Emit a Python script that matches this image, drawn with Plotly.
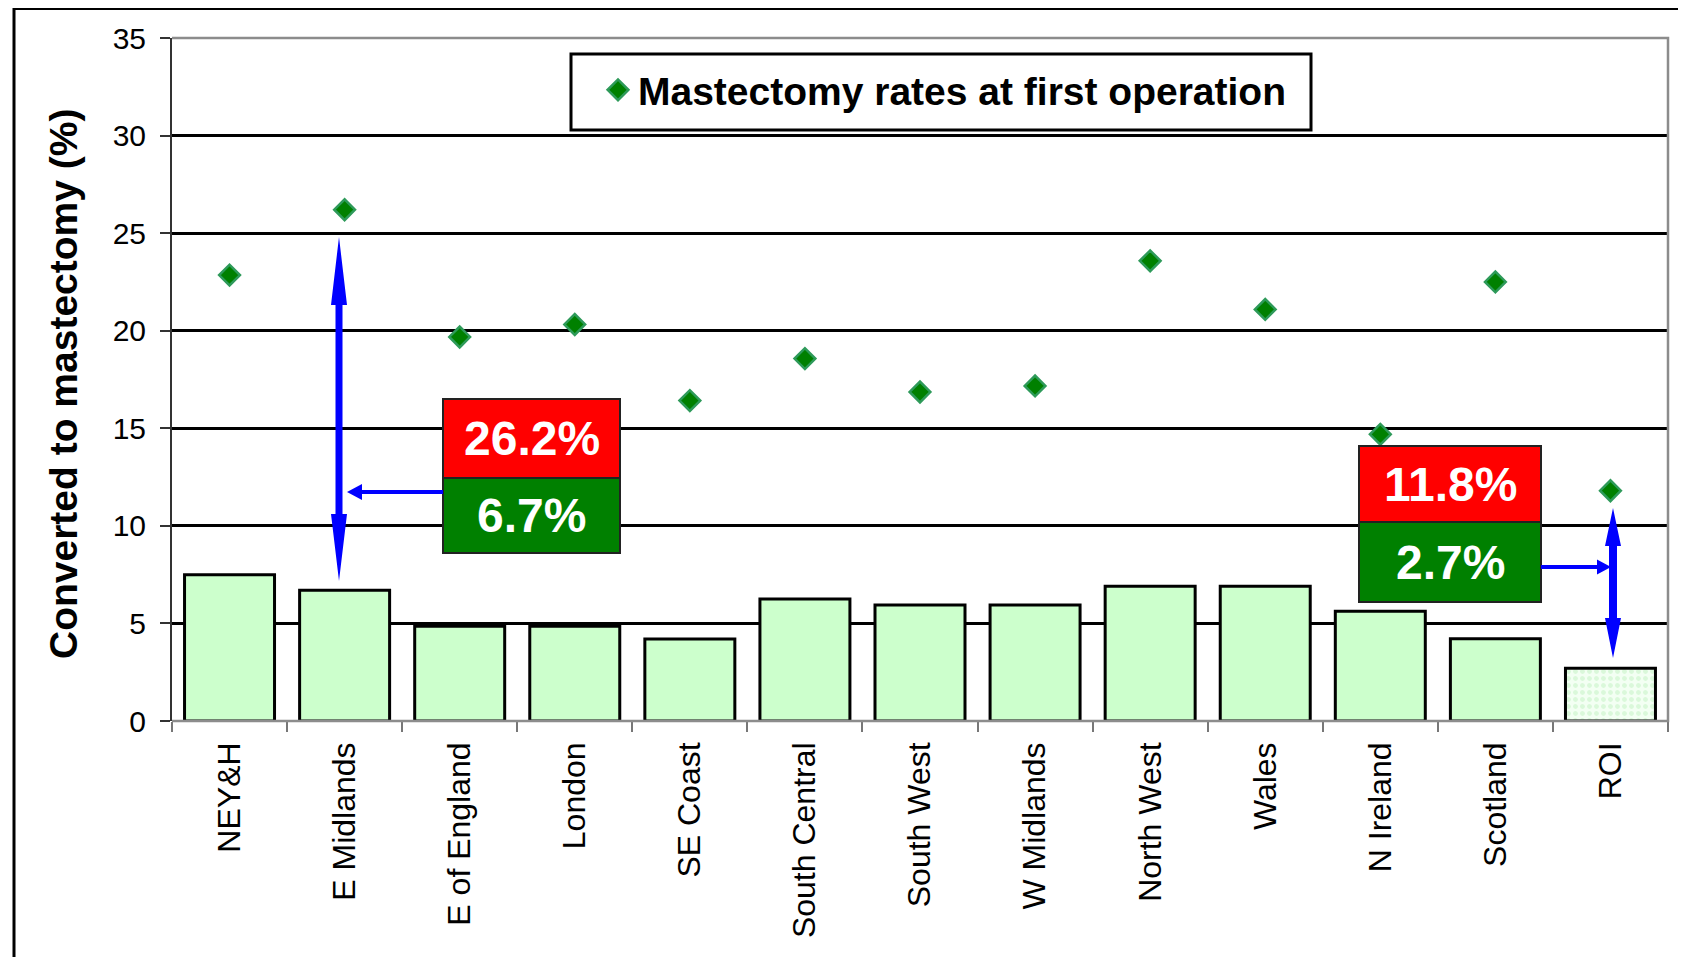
import plotly.graph_objects as go

# ---------------- data ----------------
categories = ["NEY&H", "E Midlands", "E of England", "London", "SE Coast",
              "South Central", "South West", "W Midlands", "North West",
              "Wales", "N Ireland", "Scotland", "ROI"]
converted_pct = [7.5, 6.7, 4.86, 4.86, 4.2, 6.25, 5.95, 5.95, 6.9, 6.9, 5.62, 4.21, 2.7]
mastectomy_pct = [22.85, 26.2, 19.68, 20.32, 16.42, 18.57, 16.86, 17.17, 23.58, 21.09, 14.69, 22.5, 11.8]
y_ticks = [0, 5, 10, 15, 20, 25, 30, 35]
legend_name = "Mastectomy rates at first operation"
y_title = "Converted to mastectomy (%)"

# ---------------- layout geometry (page pixels) ----------------
OFF = 8  # default body margin of the page
W, H = 1686 - OFF, 957 - OFF
PLOT_L, PLOT_R, PLOT_T, PLOT_B = 172, 1668, 38, 721  # page coords
ML, MT = PLOT_L - OFF, PLOT_T - OFF
MR = (W + OFF) - PLOT_R
MB = (H + OFF) - PLOT_B
PW = PLOT_R - PLOT_L
PH = PLOT_B - PLOT_T
N = len(categories)
CAT_W = PW / N
PX_PER_UNIT = PH / 35.0

FONT = "Liberation Sans, Arial, sans-serif"


def dx(px):
    return (px - PLOT_L) / CAT_W - 0.5


def dy(py):
    return (PLOT_B - py) / PX_PER_UNIT


def paper_x(px):
    return (px - PLOT_L) / PW


def paper_y(py):
    return (PLOT_B - py) / PH


def poly(points):
    return "M " + " L ".join(f"{dx(x):.4f},{dy(y):.4f}" for x, y in points) + " Z"


def vert_double_arrow(cx, yt, yb, w, hw, hlt, hlb):
    pts = [(cx, yt), (cx + hw, yt + hlt), (cx + w, yt + hlt), (cx + w, yb - hlb),
           (cx + hw, yb - hlb), (cx, yb), (cx - hw, yb - hlb), (cx - w, yb - hlb),
           (cx - w, yt + hlt), (cx - hw, yt + hlt)]
    return poly(pts)


def horiz_arrow(x_from, x_tip, y, w, hh, hl):
    s = 1 if x_tip > x_from else -1
    base = x_tip - s * hl
    pts = [(x_from, y - w), (base, y - w), (base, y - hh), (x_tip, y),
           (base, y + hh), (base, y + w), (x_from, y + w)]
    return poly(pts)


pattern_shapes = [""] * (N - 1) + ["."]

fig = go.Figure()
fig.add_trace(go.Bar(
    x=categories, y=converted_pct, showlegend=False,
    marker=dict(color="#CCFFCC", line=dict(color="black", width=3),
                pattern=dict(shape=pattern_shapes, bgcolor="#F3FFF3",
                             fgcolor="#C2F2C2", size=7, solidity=0.4)),
    hoverinfo="x+y",
))
fig.add_trace(go.Scatter(
    x=categories, y=mastectomy_pct, mode="markers", name=f"<b>{legend_name}</b>",
    marker=dict(symbol="diamond", size=16, color="#008000",
                line=dict(color="#2E9A5A", width=2.5)),
))

shapes = []
# outer frame
shapes.append(dict(type="rect", xref="paper", yref="paper",
                   x0=paper_x(14), x1=1.2, y0=-0.6, y1=paper_y(8.5),
                   line=dict(color="black", width=3), fillcolor="rgba(0,0,0,0)", layer="above"))
# yellow corner decoration
shapes.append(dict(type="path", xref="paper", yref="paper",
                   path=(f"M {paper_x(1596)},{paper_y(0)} L {paper_x(1700)},{paper_y(0)} "
                         f"L {paper_x(1700)},{paper_y(6)} L {paper_x(1614)},{paper_y(6)} "
                         f"L {paper_x(1603)},{paper_y(3)} Z"),
                   fillcolor="#FFFF99", line=dict(width=0), layer="above"))
# gray plot border (top, right, bottom)
shapes.append(dict(type="path", xref="paper", yref="paper",
                   path="M 0,0 L 1,0 L 1,1 L 0,1",
                   line=dict(color="#8C8C8C", width=2.5), layer="above"))
# legend box
shapes.append(dict(type="rect", xref="paper", yref="paper",
                   x0=paper_x(571), x1=paper_x(1311), y0=paper_y(130), y1=paper_y(54),
                   line=dict(color="black", width=3), fillcolor="white", layer="above"))

# value boxes
boxes = [
    (443, 620, 399, 478, 553, 1),
    (1359, 1541, 446, 522, 602, 12),
]
annotations = []
for x0p, x1p, ytp, ymp, ybp, idx in boxes:
    shapes.append(dict(type="rect", xref="x", yref="y", x0=dx(x0p), x1=dx(x1p),
                       y0=dy(ymp), y1=dy(ytp), fillcolor="#FF0000",
                       line=dict(color="#222222", width=2), layer="above"))
    shapes.append(dict(type="rect", xref="x", yref="y", x0=dx(x0p), x1=dx(x1p),
                       y0=dy(ybp), y1=dy(ymp), fillcolor="#008000",
                       line=dict(color="#222222", width=2), layer="above"))
    annotations.append(dict(xref="x", yref="y", x=dx((x0p + x1p) / 2), y=dy((ytp + ymp) / 2),
                            text=f"<b>{mastectomy_pct[idx]:.1f}%</b>", showarrow=False,
                            font=dict(family=FONT, size=48, color="white")))
    annotations.append(dict(xref="x", yref="y", x=dx((x0p + x1p) / 2), y=dy((ymp + ybp) / 2),
                            text=f"<b>{converted_pct[idx]:.1f}%</b>", showarrow=False,
                            font=dict(family=FONT, size=48, color="white")))

# blue arrows
for path in [
    vert_double_arrow(339, 237, 581, 3.5, 8, 68, 67),
    horiz_arrow(443, 347, 492, 2, 8, 15),
    vert_double_arrow(1613, 508, 658, 4, 8, 38, 40),
    horiz_arrow(1541, 1611, 567, 2, 7.5, 14),
]:
    shapes.append(dict(type="path", xref="x", yref="y", path=path,
                       fillcolor="#0000FF", line=dict(width=0), layer="above"))

# y axis title
annotations.append(dict(xref="paper", yref="paper", x=paper_x(63), y=paper_y(384),
                        text=f"<b>{y_title}</b>", textangle=-90, showarrow=False,
                        xanchor="center", yanchor="middle",
                        font=dict(family=FONT, size=39, color="black")))

fig.update_layout(
    width=W, height=H,
    margin=dict(l=ML, r=MR, t=MT, b=MB, pad=0),
    paper_bgcolor="white", plot_bgcolor="white",
    bargap=0.218,
    font=dict(family=FONT, color="black"),
    shapes=shapes, annotations=annotations,
    showlegend=True,
    legend=dict(x=paper_x(598), y=paper_y(90), xanchor="left", yanchor="middle",
                bgcolor="rgba(0,0,0,0)", borderwidth=0,
                font=dict(family=FONT, size=39, color="black"),
                itemsizing="trace"),
    xaxis=dict(type="category", categoryorder="array", categoryarray=categories,
               range=[-0.5, N - 0.5], showgrid=False, showline=False, zeroline=False,
               ticks="outside", tickson="boundaries", ticklen=10, tickwidth=2,
               tickcolor="#777777", tickangle=-90, ticklabelstandoff=14,
               tickfont=dict(family=FONT, size=32, color="black")),
    yaxis=dict(range=[0, 35], tickvals=y_ticks, showgrid=True, gridcolor="black",
               gridwidth=2.5, zeroline=False, showline=True, linecolor="#333333",
               linewidth=2, ticks="outside", ticklen=10, tickwidth=2, tickcolor="#333333",
               ticklabelstandoff=8,
               tickfont=dict(family=FONT, size=30, color="black")),
)

fig.write_html("out.html")
